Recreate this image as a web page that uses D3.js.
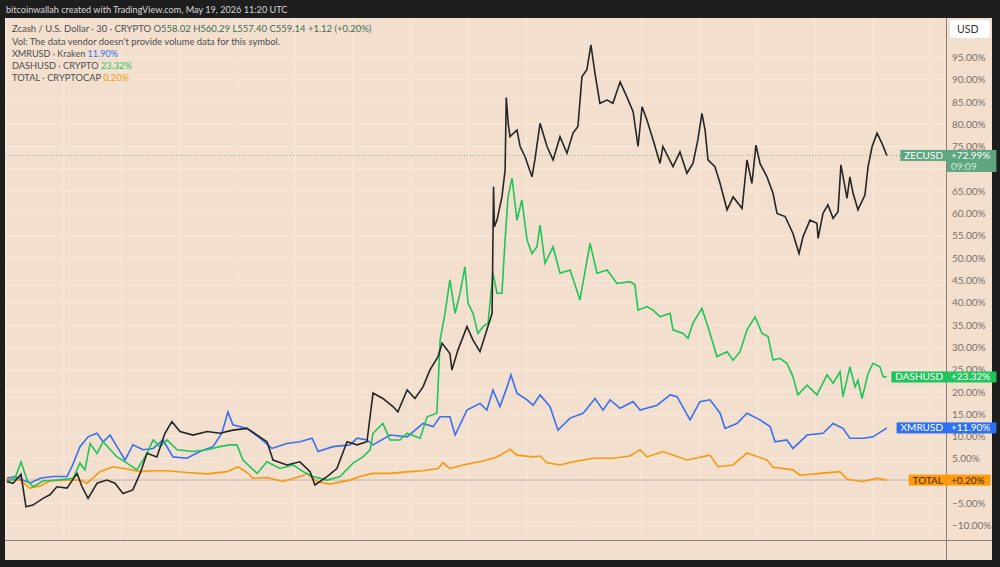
<!DOCTYPE html>
<html><head><meta charset="utf-8">
<script src="https://cdn.jsdelivr.net/npm/d3@7"></script>
<style>body{margin:0;background:#1e1e1e;} svg{display:block;font-family:Lato,"Noto Sans",sans-serif;}</style>
</head><body><svg id="c" width="1000" height="567"></svg>
<script>
// ---- DATA (day offsets since 2026-04-19 00:00 UTC, % change) ----
const startDate = Date.UTC(2026, 3, 19);
const xTickDays = [0,2,4,6,8,10,12,14,16,18,20,22,24,26,28,30,32];
const yTicks = [-10,-5,5,10,15,20,25,30,35,40,45,50,55,60,65,75,80,85,90,95];

const totalData = [[0.03,0.4],[0.48,0.2],[0.83,-1.6],[1.18,-1.1],[1.52,0],[2.11,0.2],[2.56,0.2],[2.80,-0.5],[3.25,2.1],[3.70,3.2],[4.19,2.7],[4.64,2.1],[5.09,2.3],[5.57,2.3],[6.26,1.9],[6.96,1.6],[7.65,2.1],[8.03,3.2],[8.34,1.9],[8.55,0.6],[9.03,0.8],[9.58,-0.1],[10.17,1.0],[10.42,1.6],[10.76,-0.1],[11.21,-0.7],[11.90,0.2],[12.25,1.0],[12.70,1.7],[13.29,1.7],[13.98,2.1],[14.43,2.3],[14.95,2.8],[15.12,4.1],[15.36,2.8],[15.81,3.6],[16.51,4.5],[16.99,5.4],[17.44,7.1],[17.68,5.8],[18.24,5.4],[18.48,5.6],[18.72,4.1],[19.17,3.6],[19.62,4.3],[20.31,5.1],[21.00,5.1],[21.59,5.6],[21.83,6.6],[21.94,7.0],[22.18,5.4],[22.73,6.6],[23.56,4.7],[24.36,5.8],[24.64,3.2],[25.16,3.6],[25.64,6.3],[26.33,4.7],[26.54,3.1],[27.23,2.5],[27.47,1.3],[28.17,1.7],[28.86,2.1],[29.10,0.4],[29.65,-0.1],[30.14,0.6],[30.48,0.2]];

const xmrData = [[0.03,0.6],[0.31,1.0],[0.59,0.2],[0.83,-0.5],[1.18,0.6],[1.63,1.0],[2.11,1.0],[2.28,3.2],[2.56,7.7],[2.84,9.9],[3.15,10.7],[3.36,8.8],[3.60,10.3],[3.84,7.7],[4.12,4.7],[4.39,8.1],[4.74,7.0],[5.09,7.3],[5.43,9.2],[5.78,5.4],[6.26,5.1],[6.71,6.6],[7.16,7.7],[7.47,10.7],[7.68,15.5],[7.85,12.6],[8.34,11.8],[8.79,9.6],[9.20,7.3],[9.72,8.4],[10.17,8.8],[10.59,9.6],[10.80,6.6],[11.31,7.7],[11.90,8.1],[12.15,9.6],[12.49,9.2],[12.70,8.1],[13.29,10.3],[13.88,9.9],[14.43,12.9],[14.78,12.2],[15.02,14.4],[15.36,14.4],[15.54,10.3],[15.95,15.9],[16.40,17.4],[16.64,15.9],[16.85,20.4],[17.09,16.7],[17.34,21.1],[17.47,23.8],[17.68,19.7],[18.03,18.2],[18.24,17.0],[18.48,19.3],[18.82,16.7],[19.10,11.4],[19.52,14.1],[19.97,15.2],[20.38,18.5],[20.66,15.9],[20.90,18.2],[21.25,16.3],[21.70,17.8],[21.94,15.9],[22.53,17.0],[22.98,19.3],[23.22,18.9],[23.67,13.7],[24.01,17.8],[24.36,18.2],[24.71,15.2],[24.88,11.8],[25.29,12.9],[25.64,15.2],[26.09,13.7],[26.44,12.2],[26.61,8.8],[27.02,9.2],[27.23,7.3],[27.72,10.3],[28.27,10.7],[28.62,12.9],[28.96,11.8],[29.20,9.6],[29.65,9.6],[30.00,9.9],[30.48,11.9]];

const dashData = [[0.03,-0.1],[0.31,0.6],[0.52,4.3],[0.73,0.2],[0.93,-1.3],[1.28,0],[1.76,0.2],[2.32,0.6],[2.56,4.0],[2.73,2.5],[2.91,8.4],[3.15,6.2],[3.36,8.8],[3.84,5.4],[4.19,4.0],[4.53,2.5],[4.88,6.2],[5.09,9.2],[5.33,7.7],[5.57,9.2],[5.92,7.0],[6.47,6.6],[6.96,7.0],[7.40,7.7],[7.75,8.1],[7.99,8.1],[8.20,4.7],[8.69,1.7],[9.03,4.3],[9.48,2.8],[9.93,3.6],[10.28,2.1],[10.62,1.0],[11.11,0.2],[11.56,1.0],[12.01,4.0],[12.35,5.4],[12.60,7.0],[12.70,10.7],[13.04,12.9],[13.29,9.2],[13.63,9.2],[13.88,10.7],[14.33,9.6],[14.57,14.4],[14.91,15.2],[15.02,31.6],[15.19,37.6],[15.36,45.1],[15.54,37.6],[15.71,42.1],[15.88,48.0],[15.99,39.8],[16.16,37.6],[16.33,33.1],[16.51,34.6],[16.68,35.4],[16.85,46.6],[16.99,42.1],[17.16,42.1],[17.27,54.0],[17.37,63.7],[17.51,67.9],[17.68,58.5],[17.85,63.0],[18.03,54.0],[18.20,51.0],[18.37,52.5],[18.48,57.4],[18.65,48.8],[18.93,52.5],[19.17,46.6],[19.52,47.3],[19.86,40.6],[20.21,53.3],[20.45,46.6],[20.80,47.3],[21.14,44.3],[21.59,44.7],[21.76,44.0],[21.87,38.3],[22.18,39.1],[22.39,38.3],[22.63,36.8],[22.98,37.6],[23.08,33.9],[23.43,33.1],[23.60,32.0],[23.77,35.4],[24.08,38.7],[24.29,34.6],[24.60,27.9],[24.95,29.0],[25.16,27.1],[25.40,29.0],[25.64,33.9],[25.92,36.8],[26.16,33.1],[26.37,32.4],[26.54,27.1],[26.78,27.5],[27.02,26.4],[27.23,23.4],[27.40,19.3],[27.72,21.5],[28.06,19.3],[28.41,23.8],[28.62,21.9],[28.86,24.5],[28.96,18.9],[29.20,25.6],[29.38,21.1],[29.48,22.6],[29.62,18.5],[29.83,24.1],[30.00,26.4],[30.24,25.6],[30.35,23.4],[30.48,23.32]];

const zecData = [[0.03,-0.1],[0.24,-0.5],[0.52,1.5],[0.69,-5.8],[0.93,-5.4],[1.28,-3.9],[1.52,-3.1],[1.76,-1.3],[2.11,-1.6],[2.46,1.7],[2.63,-1.3],[2.84,-3.9],[3.15,-0.5],[3.49,0.2],[3.77,-0.5],[4.05,-2.8],[4.39,-2.0],[4.64,1.7],[4.88,6.2],[5.22,5.4],[5.50,10.7],[5.74,13.3],[6.02,11.1],[6.47,10.3],[6.96,11.1],[7.40,10.7],[7.85,11.4],[8.34,11.8],[8.69,10.3],[9.03,8.8],[9.24,4.7],[9.72,3.6],[10.17,4.3],[10.52,2.1],[10.69,-0.9],[11.11,1.0],[11.45,2.8],[11.80,8.8],[12.15,8.1],[12.49,8.8],[12.70,19.7],[13.04,18.5],[13.39,16.7],[13.56,15.5],[13.88,20.4],[14.15,18.5],[14.43,21.1],[14.67,24.9],[14.95,27.9],[15.09,30.9],[15.36,28.6],[15.43,24.9],[15.64,29.4],[15.95,34.6],[16.16,31.6],[16.40,29.0],[16.64,33.9],[16.82,37.6],[16.87,66.0],[16.90,57.0],[16.99,58.5],[17.16,63.7],[17.27,69.7],[17.31,86.0],[17.38,80.0],[17.44,77.2],[17.68,78.7],[17.79,75.0],[17.96,72.7],[18.20,68.2],[18.30,72.0],[18.48,80.2],[18.72,75.0],[18.93,72.0],[19.17,77.2],[19.41,73.5],[19.62,78.0],[19.79,79.5],[19.93,90.7],[20.10,92.2],[20.24,97.8],[20.38,91.4],[20.55,84.7],[20.80,85.4],[21.00,84.7],[21.25,89.5],[21.49,86.0],[21.70,82.8],[21.87,75.0],[22.01,83.9],[22.18,80.9],[22.39,76.5],[22.63,71.2],[22.73,75.0],[23.08,70.5],[23.32,73.8],[23.56,69.0],[23.77,71.2],[23.94,76.5],[24.08,82.4],[24.19,78.7],[24.29,72.0],[24.53,70.5],[24.71,66.7],[24.95,60.8],[25.16,63.7],[25.47,61.1],[25.64,72.0],[25.81,66.7],[25.95,75.3],[26.09,71.2],[26.33,68.2],[26.54,64.5],[26.68,60.0],[26.96,59.3],[27.23,55.5],[27.44,51.0],[27.58,54.8],[27.82,58.5],[28.06,57.8],[28.10,54.4],[28.27,60.0],[28.44,61.9],[28.62,58.9],[28.79,60.4],[28.89,70.9],[29.10,63.4],[29.20,68.2],[29.31,64.5],[29.48,60.8],[29.72,64.1],[29.83,70.5],[29.97,75.0],[30.14,78.0],[30.31,75.7],[30.48,72.99]];

// ---- LAYOUT ----
const W = 1000, H = 567;
const L = 5, R = 947, T = 18, B = 540;
const DAY = 86400000;
const FONT = 'Lato, "Noto Sans", sans-serif';
const svg = d3.select('#c');
svg.append('rect').attr('width', W).attr('height', H).attr('fill', '#1e1e1e');
svg.append('rect').attr('x', 5).attr('y', 18).attr('width', 987).attr('height', 542).attr('fill', '#f2dfcd');

const x = d3.scaleUtc()
  .domain([new Date(startDate - DAY / 28.9), new Date(startDate + 941 * DAY / 28.9)])
  .range([L, R]);
const y = d3.scaleLinear().domain([-59 / 4.46, 463 / 4.46]).range([B, T]);
const dt = d => new Date(startDate + d * DAY);

const defs = svg.append('defs');
defs.append('clipPath').attr('id', 'clip')
  .append('rect').attr('x', L).attr('y', T).attr('width', R - L).attr('height', B - T);
defs.append('clipPath').attr('id', 'clipx')
  .append('rect').attr('x', L).attr('y', B).attr('width', R - L).attr('height', 20);

// grid
const grid = svg.append('g').attr('clip-path', 'url(#clip)');
grid.selectAll('.vg').data(xTickDays).join('line')
  .attr('x1', d => x(dt(d))).attr('x2', d => x(dt(d))).attr('y1', T).attr('y2', B)
  .attr('stroke', '#f7e9dc').attr('stroke-width', 1);
grid.selectAll('.hg').data(yTicks.concat([0, 70])).join('line')
  .attr('x1', L).attr('x2', R).attr('y1', d => y(d)).attr('y2', d => y(d))
  .attr('stroke', '#f7e9dc').attr('stroke-width', 1);

// price lines
grid.append('line').attr('x1', L).attr('x2', R)
  .attr('y1', y(0.2)).attr('y2', y(0.2)).attr('stroke', '#bdb1a6').attr('stroke-width', 1);
grid.append('line').attr('x1', L).attr('x2', R)
  .attr('y1', y(72.99)).attr('y2', y(72.99)).attr('stroke', '#7fae92')
  .attr('stroke-width', 1).attr('stroke-dasharray', '1,2');

// series
const line = d3.line().x(d => x(dt(d[0]))).y(d => y(d[1]));
const plot = svg.append('g').attr('clip-path', 'url(#clip)');
plot.append('path').datum(totalData).attr('d', line).attr('fill', 'none').attr('stroke', '#f7980f').attr('stroke-width', 1.6);
plot.append('path').datum(xmrData).attr('d', line).attr('fill', 'none').attr('stroke', '#3a6ff0').attr('stroke-width', 1.6);
plot.append('path').datum(dashData).attr('d', line).attr('fill', 'none').attr('stroke', '#1fc45a').attr('stroke-width', 1.6);
plot.append('path').datum(zecData).attr('d', line).attr('fill', 'none').attr('stroke', '#262626').attr('stroke-width', 1.6);

// axes
const axisColor = '#7a716a';
const xAxis = d3.axisBottom(x).tickValues(xTickDays.map(dt)).tickSize(0).tickPadding(5)
  .tickFormat(d => d.getUTCDate() === 1 ? 'May' : String(d.getUTCDate()));
const gx = svg.append('g').attr('transform', `translate(0,${B})`).call(xAxis);
gx.select('.domain').remove();
gx.selectAll('text').attr('fill', axisColor).attr('font-size', 10).attr('font-family', FONT)
  .filter(d => d.getUTCDate() === 1).attr('fill', '#4f4a46').attr('font-weight', 700);
gx.attr('clip-path', 'url(#clipx)');

const yAxis = d3.axisRight(y).tickValues(yTicks).tickSize(0).tickPadding(5)
  .tickFormat(d => (d < 0 ? '\u2212' : '') + Math.abs(d).toFixed(2) + '%');
const gy = svg.append('g').attr('transform', `translate(${R},0)`).call(yAxis);
gy.select('.domain').remove();
gy.selectAll('text').attr('fill', axisColor).attr('font-size', 10).attr('font-family', FONT);

svg.append('line').attr('x1', L).attr('x2', 992).attr('y1', B + 0.5).attr('y2', B + 0.5).attr('stroke', '#8c8178');
svg.append('line').attr('x1', R - 0.5).attr('x2', R - 0.5).attr('y1', T).attr('y2', 560).attr('stroke', '#8c8178');

// USD box
svg.append('rect').attr('x', 950).attr('y', 20).attr('width', 40).attr('height', 18).attr('rx', 3).attr('fill', '#ffffff');
svg.append('text').attr('x', 957).attr('y', 33).attr('font-size', 10.5).attr('fill', '#333').text('USD');

// tags
function tag(val, label, bg, fg, valText, extra) {
  const cy = y(val);
  const g = svg.append('g').attr('font-size', 10);
  const lt = g.append('text').attr('fill', fg).attr('text-anchor', 'end')
    .attr('x', R - 4).attr('y', cy + 3.5).text(label);
  const lw = lt.node().getComputedTextLength();
  g.insert('rect', 'text').attr('x', R - lw - 8).attr('y', cy - 5.5).attr('width', lw + 8).attr('height', 11).attr('fill', bg);
  const vt = g.append('text').attr('fill', fg).attr('x', R + 4).attr('y', cy + 3.5).text(valText);
  const vw = vt.node().getComputedTextLength();
  const h = extra ? 22 : 11;
  g.insert('rect', 'text').attr('x', R).attr('y', cy - 5.5).attr('width', vw + 10).attr('height', h).attr('fill', bg);
  if (extra) g.append('text').attr('fill', '#d5eadd').attr('x', R + 4).attr('y', cy + 14.5).text(extra);
}
tag(72.99, 'ZECUSD', '#5da67f', '#ffffff', '+72.99%', '09:09');
tag(23.32, 'DASHUSD', '#1fc45a', '#ffffff', '+23.32%');
tag(11.90, 'XMRUSD', '#2f6ff2', '#ffffff', '+11.90%');
tag(0.20, 'TOTAL', '#ff9a0a', '#3b2a12', '+0.20%');

// title & legend (font size fitted to the reference line widths)
function fit(sel, target) {
  const fs = +sel.attr('font-size');
  const w = sel.node().getComputedTextLength();
  sel.attr('font-size', (fs * target / w).toFixed(2));
}
const title = svg.append('text').attr('x', 6).attr('y', 13).attr('font-size', 11).attr('fill', '#d6d6d6')
  .text('bitcoinwallah created with TradingView.com, May 19, 2026 11:20 UTC');
fit(title, 282);
const l1 = svg.append('text').attr('x', 12).attr('y', 32).attr('font-size', 11).attr('fill', '#4d4d4d');
l1.append('tspan').text('Zcash / U.S. Dollar · 30 · CRYPTO ');
l1.append('tspan').attr('fill', '#3f6e55').text(' O558.02  H560.29  L557.40  C559.14  +1.12 (+0.20%)');
fit(l1, 360);
const l2 = svg.append('text').attr('x', 12).attr('y', 45).attr('font-size', 11).attr('fill', '#4d4d4d')
  .text("Vol: The data vendor doesn't provide volume data for this symbol.");
fit(l2, 268);
const l3 = svg.append('text').attr('x', 12).attr('y', 57).attr('font-size', 11).attr('fill', '#4d4d4d');
l3.append('tspan').text('XMRUSD · Kraken ');
l3.append('tspan').attr('fill', '#3a6ff0').text('11.90%');
fit(l3, 106);
const l4 = svg.append('text').attr('x', 12).attr('y', 69).attr('font-size', 11).attr('fill', '#4d4d4d');
l4.append('tspan').text('DASHUSD · CRYPTO ');
l4.append('tspan').attr('fill', '#1fc45a').text('23.32%');
fit(l4, 120);
const l5 = svg.append('text').attr('x', 12).attr('y', 81).attr('font-size', 11).attr('fill', '#4d4d4d');
l5.append('tspan').text('TOTAL · CRYPTOCAP ');
l5.append('tspan').attr('fill', '#f7980f').text('0.20%');
fit(l5, 117);
</script></body></html>
